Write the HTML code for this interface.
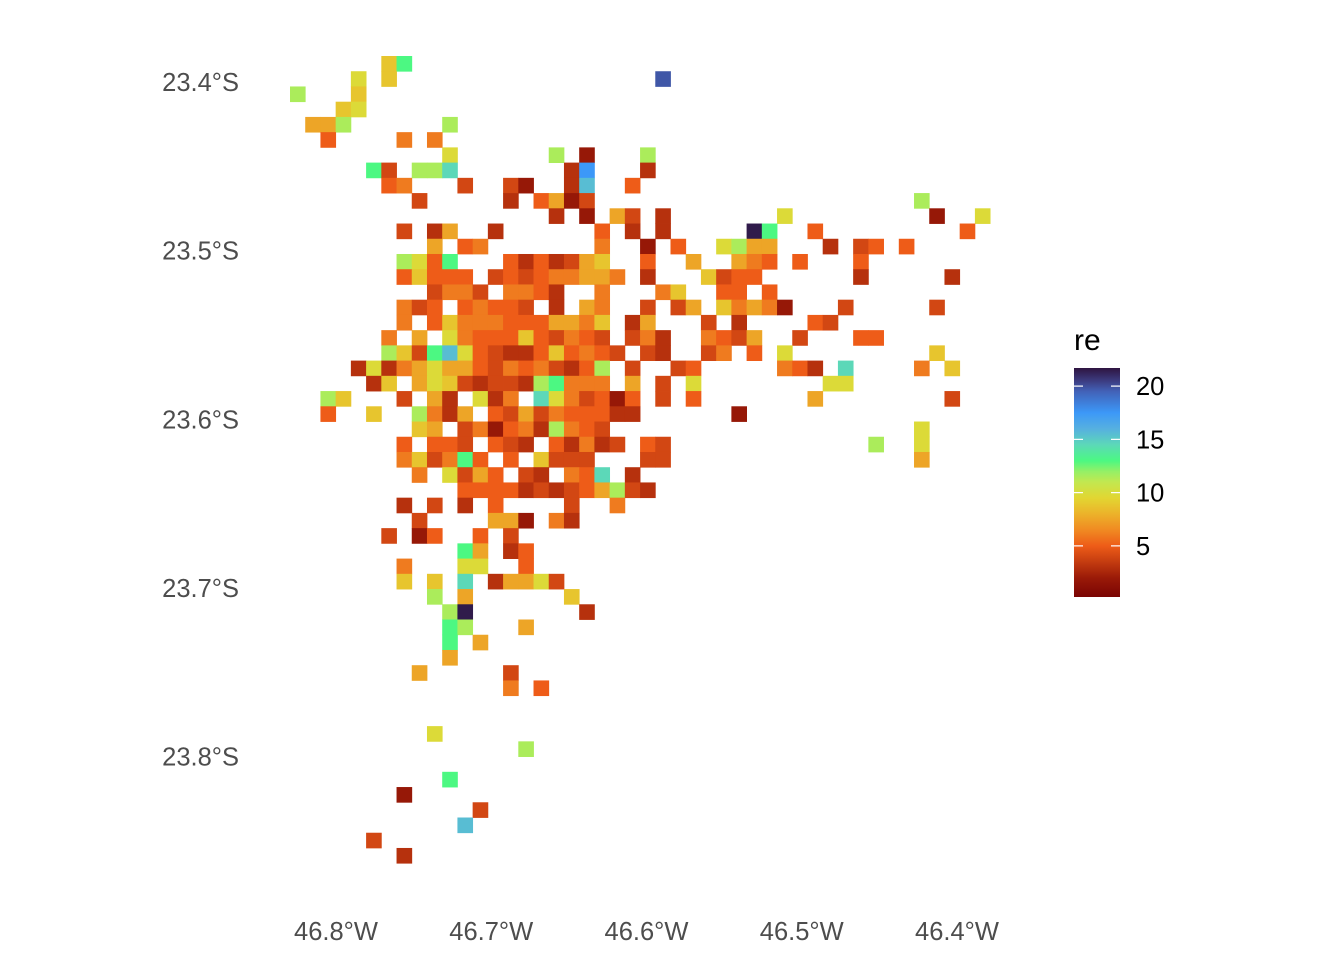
<!DOCTYPE html>
<html><head><meta charset="utf-8"><style>
html,body{margin:0;padding:0;background:#fff;}
svg{display:block;font-family:"Liberation Sans",Arial,sans-serif;}
</style></head><body>
<svg id="chart" width="1344" height="960" viewBox="0 0 1344 960" xmlns="http://www.w3.org/2000/svg">
<defs><linearGradient id="grad" x1="0" y1="0" x2="0" y2="1"></linearGradient></defs>
<g id="cells"></g>
<g id="yaxis"></g>
<g id="xaxis"></g>
<g id="legend"></g>
</svg>
<script>
// value of each colour code
const codes = ['D','R','r','O','o','A','Y','y','L','G','T','C','B','N','P'];
const codeValues = [1.8,3,4,5,6,7.5,8.8,9.8,11.5,13,14.5,15.5,17.5,19.8,21.5];
// grid rows (row index -> "col+code" entries)
const gridRows = [
"6Y 7G","4y 6Y 24N","0L 4Y","3Y 4y","1A 2A 3L 10L","2O 7o 9o","10y 17L 19D 23L",
"5G 6r 8L 9L 10T 18R 19B 23R","6O 7o 11r 14r 15D 18R 19C 22O","8r 14R 16O 17A 18D 19r 41L",
"17R 19D 21A 22r 24R 32y 42D 45y","7r 9R 10A 13R 20O 22R 24R 30P 31G 34O 44O",
"9A 11O 12o 20o 23D 25O 28y 29L 30A 31A 35R 37r 38O 40O",
"7L 8y 9O 10G 14O 15R 16O 17R 18r 19A 20Y 23O 26A 29A 30o 31O 33O 37O",
"7O 8Y 9O 10O 11O 13r 14O 15r 16O 17o 18o 19A 20A 21o 23R 27Y 28r 29O 30O 37R 43R",
"9r 10o 11o 12r 14o 15o 16O 17R 20o 24o 25Y 28O 29O 31O",
"7o 8r 9O 11O 12o 13O 14O 15r 17R 19A 20o 23r 25r 26A 28Y 29o 30A 31o 32D 36r 42r",
"7o 9O 10Y 11o 12o 13o 14O 15O 16O 17A 18A 19o 20Y 22R 23A 27r 29R 34O 35r",
"6o 8A 10y 11o 12O 13O 14O 15Y 16O 17r 18o 19O 20r 22r 23o 24R 27o 28O 29r 30A 33r 37O 38O",
"6L 7Y 8r 9G 10C 11y 12O 13r 14R 15R 16O 17Y 18O 19o 20O 21r 23r 24R 27r 28o 30O 32y 42Y",
"4R 5y 6R 7o 8A 9y 10A 11A 12O 13r 14o 15O 16o 17r 18R 19O 20L 22r 25r 26O 32o 33O 34R 36T 41o 43Y",
"5R 6Y 8A 9y 10Y 11r 12R 13r 14r 15R 16L 17G 18o 19o 20o 22A 24r 26y 35y 36y",
"2L 3Y 7r 9A 10R 12y 13R 14o 16T 17y 18o 19r 20O 21D 22O 24r 26O 34A 43r",
"2O 5Y 8L 9o 10R 11A 13O 14r 15A 16r 17o 18O 19O 20O 21R 22R 29D",
"8Y 9A 11r 12o 13D 14O 15o 16R 17L 18o 19O 20r 41y",
"7O 9O 10O 11r 13O 14r 15R 17O 18R 19o 20R 21r 23O 24r 38L 41y",
"7o 8Y 9r 10o 11G 12O 14O 16Y 17r 18r 19r 23r 24r 41A",
"8o 10y 11r 12A 13O 15r 16R 18o 19O 20T 22R",
"11O 12O 13O 14O 15R 16r 17R 18r 19O 20A 21L 22r 23R",
"7R 9r 11R 13O 18r 21o","8r 13A 14A 15D 17o 18R","6r 8D 9O 12O 14r","11G 12A 14R 15O",
"7o 11y 12y 15O","7Y 9Y 11T 13R 14A 15A 16y 17r","9L 11A 18Y","10L 11P 19R","10G 11L 15A",
"10G 12A","10A","8A 14r","14o 16O","","","9y","15L","","10G","7D","12r","11C","5r","7R"
];
const yTickLabels = ['23.4°S','23.5°S','23.6°S','23.7°S','23.8°S'];
const yTickValues = [23.4,23.5,23.6,23.7,23.8];
const xTickLabels = ['46.8°W','46.7°W','46.6°W','46.5°W','46.4°W'];
const xTickValues = [46.8,46.7,46.6,46.5,46.4];
const legendTicks = [5,10,15,20];

const NS='http://www.w3.org/2000/svg';
const X0=290, CW=15.22, Y0=56, CH=15.23;
const colX = c => X0 + c*CW;
const rowY = r => Y0 + r*CH;
const latY = v => 82 + (v-23.4)*1686.5;
const lonX = v => 336 + (46.8-v)*1552.5;
const stops=[[0.2,'#7a0403'],[2,'#9a1a08'],[3.5,'#c43c10'],[5,'#ee5c18'],[6.5,'#f08a22'],[8,'#ecb22a'],[9.5,'#e2d632'],[11,'#c2e850'],[12,'#94f066'],[13,'#4cf882'],[14.5,'#5cd8b8'],[16,'#56b0e0'],[17.5,'#3c98f8'],[19.5,'#4262b8'],[20.5,'#3c3c80'],[21.7,'#2e1440']];
function hex(h){return [1,3,5].map(i=>parseInt(h.substr(i,2),16));}
function color(v){
  if(v<=stops[0][0]) return stops[0][1];
  for(let i=1;i<stops.length;i++){
    if(v<=stops[i][0]){const a=hex(stops[i-1][1]),b=hex(stops[i][1]);const t=(v-stops[i-1][0])/(stops[i][0]-stops[i-1][0]);
      return 'rgb('+a.map((x,k)=>Math.round(x+(b[k]-x)*t)).join(',')+')';}
  }
  return stops[stops.length-1][1];
}
function mk(tag,attrs,parent){const e=document.createElementNS(NS,tag);for(const k in attrs)e.setAttribute(k,attrs[k]);parent.appendChild(e);return e;}

const cells=document.getElementById('cells');
gridRows.forEach((s,r)=>{
  if(!s) return;
  s.split(' ').forEach(tok=>{
    const c=parseInt(tok,10); const code=tok.replace(/[0-9]/g,'');
    const v=codeValues[codes.indexOf(code)];
    const rect=mk('rect',{x:colX(c).toFixed(2),y:rowY(r).toFixed(2),width:CW+0.4,height:CH+0.4,fill:color(v)},cells);
    
    
  });
});

const ya=document.getElementById('yaxis');
yTickValues.forEach((v,i)=>{
  const t=mk('text',{x:239,y:latY(v)+9,'text-anchor':'end','font-size':25.5,fill:'#4d4d4d'},ya);
  t.textContent=yTickLabels[i];
  
  
});
const xa=document.getElementById('xaxis');
xTickValues.forEach((v,i)=>{
  const t=mk('text',{x:lonX(v),y:940,'text-anchor':'middle','font-size':25.5,fill:'#4d4d4d'},xa);
  t.textContent=xTickLabels[i];
  
  
});

// legend
const grad=document.getElementById('grad');
const vTop=21.7, vBot=0.2, LY0=368, LY1=597;
for(let i=stops.length-1;i>=0;i--){
  mk('stop',{offset:((vTop-stops[i][0])/(vTop-vBot)).toFixed(4),'stop-color':stops[i][1]},grad);
}
const lg=document.getElementById('legend');
const title=mk('text',{x:1074,y:350,'font-size':30,fill:'#000'},lg);
title.textContent='re';


const bar=mk('rect',{x:1074,y:LY0,width:46,height:LY1-LY0,fill:'url(#grad)'},lg);


const legY=v=>LY0+(vTop-v)/(vTop-vBot)*(LY1-LY0);
legendTicks.forEach(v=>{
  const y=legY(v);
  mk('line',{x1:1074,x2:1083,y1:y,y2:y,stroke:'#fff','stroke-width':1.2},lg);
  mk('line',{x1:1111,x2:1120,y1:y,y2:y,stroke:'#fff','stroke-width':1.2},lg);
  const t=mk('text',{x:1136,y:y+9,'font-size':25.5,fill:'#000'},lg);
  t.textContent=String(v);
  
  
});
</script>
</body></html>
